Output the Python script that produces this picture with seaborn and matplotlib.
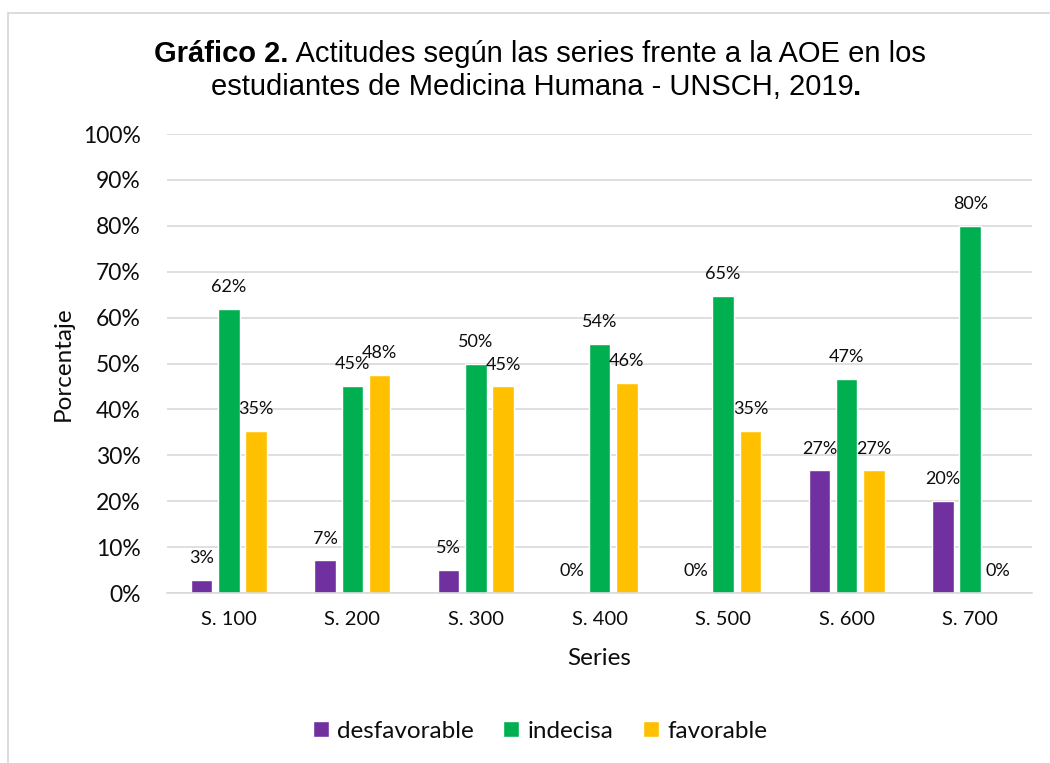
import pandas as pd
import matplotlib.pyplot as plt
import seaborn as sns
from matplotlib.patches import Patch, Rectangle
from matplotlib.ticker import PercentFormatter, MultipleLocator

# Data (percent of students)
series = ['S. 100', 'S. 200', 'S. 300', 'S. 400', 'S. 500', 'S. 600', 'S. 700']
desfavorable = [2.9, 7.1, 5.0, 0.0, 0.0, 26.7, 20.0]
indecisa = [61.8, 45.2, 50.0, 54.2, 64.7, 46.7, 80.0]
favorable = [35.3, 47.6, 45.0, 45.8, 35.3, 26.7, 0.0]
attitudes = ['desfavorable', 'indecisa', 'favorable']
colors = ['#7030A0', '#00B050', '#FFC000']

df = pd.DataFrame({
    'Series': series * 3,
    'Actitud': [a for a in attitudes for _ in series],
    'Porcentaje': desfavorable + indecisa + favorable,
})

sns.set_style('white')
plt.rcParams['font.family'] = ['Lato', 'DejaVu Sans']
plt.rcParams['text.color'] = '#0d0d0d'

W, H = 1050, 763
fig = plt.figure(figsize=(W / 100, H / 100), dpi=100)
ax = fig.add_axes([167 / W, 1 - 593 / H, (1032 - 167) / W, (593 - 134) / H])

sns.barplot(data=df, x='Series', y='Porcentaje', hue='Actitud',
            hue_order=attitudes, palette=colors, saturation=1,
            width=0.663, gap=0.21, legend=False, ax=ax)

for cont in ax.containers:
    ax.bar_label(cont, fmt='%.0f%%', padding=10, fontsize=13, color='#0d0d0d')

ax.set_ylim(0, 100)
ax.yaxis.set_major_locator(MultipleLocator(10))
ax.yaxis.set_major_formatter(PercentFormatter(decimals=0))
ax.yaxis.grid(True, color='#D9D9D9', lw=1.2)
ax.set_axisbelow(True)
for s in ['left', 'top', 'right']:
    ax.spines[s].set_visible(False)
ax.spines['bottom'].set_color('#D9D9D9')
ax.spines['bottom'].set_linewidth(1.2)
ax.tick_params(axis='y', length=0, pad=19, labelsize=16.5, labelcolor='#0d0d0d')
ax.tick_params(axis='x', length=0, pad=13, labelsize=14.5, labelcolor='#0d0d0d')

ax.set_ylabel('Porcentaje', fontsize=17.5, color='#0d0d0d')
ax.yaxis.set_label_coords(-0.108, 0.5)
ax.set_xlabel('Series', fontsize=17.5, color='#0d0d0d')
ax.xaxis.set_label_coords(0.5, -0.12)

handles = [Patch(facecolor=c, label=a) for a, c in zip(attitudes, colors)]
fig.legend(handles=handles, loc='center', bbox_to_anchor=(540 / W, 1 - 731 / H),
           ncol=3, frameon=False, fontsize=17.5, handlelength=0.66,
           handleheight=0.66, handletextpad=0.33, columnspacing=1.22)

# title with mixed weights
fig.canvas.draw()
renderer = fig.canvas.get_renderer()


def title_line(parts, y_px, cx_px):
    texts = [fig.text(0, 1 - y_px / H, s, fontsize=21, fontweight=w,
                      family=['Liberation Sans', 'DejaVu Sans'], color='black',
                      va='baseline', ha='left') for s, w in parts]
    widths = [t.get_window_extent(renderer).width for t in texts]
    x = cx_px - sum(widths) / 2
    for t, w in zip(texts, widths):
        t.set_x(x / W)
        x += w


title_line([('Gráfico 2.', 'bold'),
            (' Actitudes según las series frente a la AOE en los', 'normal')], 62, 540)
title_line([('estudiantes de Medicina Humana - UNSCH, 2019', 'normal'),
            ('.', 'bold')], 95, 536)

fig.patches.append(Rectangle((8 / W, -0.05), 1.2, 1.05 - 13 / H,
                             transform=fig.transFigure, fill=False,
                             edgecolor='#D9D9D9', lw=1.3))

fig.savefig('out.png', dpi=100)
